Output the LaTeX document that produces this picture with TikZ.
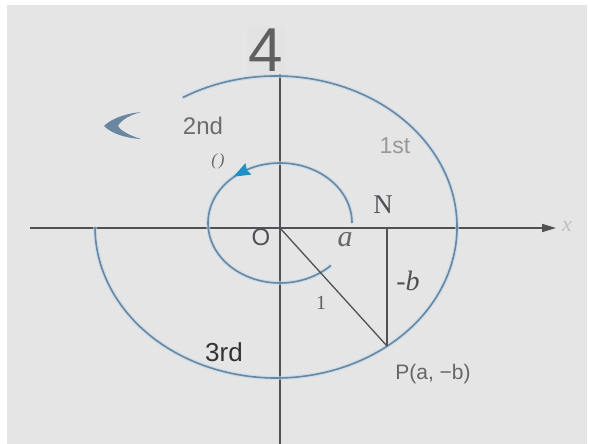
\documentclass[tikz,border=0pt]{standalone}
\usepackage{fontspec}
\setmainfont{Liberation Serif}
\setsansfont{Liberation Sans}
\usetikzlibrary{arrows.meta}
\definecolor{bg}{RGB}{229,229,229}
\definecolor{axis}{RGB}{80,80,85}
\definecolor{curve}{RGB}{105,135,160}
\definecolor{halo}{RGB}{190,215,235}
\definecolor{tip}{RGB}{30,145,200}
\tikzset{
  axisline/.style={draw=axis, line width=1.6pt},
  curveline/.style={draw=curve, line width=1.6pt},
  sanslab/.style={inner sep=0pt, font=\sffamily},
  seriflab/.style={inner sep=0pt},
}
\begin{document}
\begin{tikzpicture}[x=1pt,y=1pt]
\useasboundingbox (0,0) rectangle (589,444);
\fill[white] (0,0) rectangle (589,444);
\fill[bg] (7,0) rectangle (587,439);
% faint box behind 4
\fill[gray!22, opacity=0.5] (247,368) rectangle (286,418);
% axes
\coordinate (xl) at (30,216);
\coordinate (xr) at (556,216);
\coordinate (yt) at (280,370);
\coordinate (yb) at (280,0);
\draw[axisline, -{Triangle[length=14pt,width=8pt]}] (xl) -- (xr);
\draw[axisline] (yt) -- (yb);
% big curve
\draw[halo, line width=4pt, opacity=0.6] (276,217) ++(121:181 and 151) arc[start angle=121, end angle=-180, x radius=181, y radius=151];
\draw[curveline] (276,217) ++(121:181 and 151) arc[start angle=121, end angle=-180, x radius=181, y radius=151];
% inner curve
\draw[halo, line width=4pt, opacity=0.6] (280,221) ++(0:72 and 60) arc[start angle=0, end angle=315, x radius=72, y radius=60];
\draw[curveline] (280,221) ++(0:72 and 60) arc[start angle=0, end angle=315, x radius=72, y radius=60];
\coordinate (tipc) at (240.5,271);
\fill[tip, shift={(tipc)}, rotate=207.5] (8,0) -- (-9,6.5) -- (-7,0) -- (-9,-6.5) -- cycle;
% points
\coordinate (O) at (280,216);
\coordinate (P) at (387,98);
\coordinate (N) at (387,216);
\draw[axisline, line width=1.3pt] (O) -- (P);
\draw[axisline, line width=1.3pt] (N) -- (P);
% crescent
\fill[curve] (141,332) .. controls (122,330) and (110,324) .. (104,318)
  .. controls (111,311) and (124,306) .. (141,305)
  .. controls (128,309) and (120,314) .. (118,318)
  .. controls (121,324) and (130,329) .. (141,332) -- cycle;
% labels
\node[sanslab, text=gray!75!black, font=\sffamily\fontsize{62}{62}\selectfont] (four) at (266,394) {4};
\node[sanslab, text=gray!85!black, font=\sffamily\fontsize{24}{24}\selectfont] (second) at (203,318) {2nd};
\node[sanslab, text=gray!80, font=\sffamily\fontsize{23}{23}\selectfont] (first) at (395,298) {1st};
\node[seriflab, text=gray!80!black, font=\itshape\fontsize{17}{17}\selectfont] (theta) at (218,283) {(\kern2pt)};
\node[seriflab, text=axis, font=\fontsize{27}{27}\selectfont] (Nl) at (383,239) {N};
\node[sanslab, text=axis, font=\sffamily\fontsize{24}{24}\selectfont] (Ol) at (261,207) {O};
\node[seriflab, text=gray!80!black, font=\itshape\fontsize{30}{30}\selectfont] (al) at (345,204) {a};
\node[seriflab, text=axis, font=\fontsize{28}{28}\selectfont] (bl) at (408,163) {-\textit{b}};
\node[seriflab, text=gray!75!black, font=\fontsize{20}{20}\selectfont] (one) at (321,141) {1};
\node[sanslab, text=black!80, font=\sffamily\fontsize{26}{26}\selectfont] (third) at (224,92) {3rd};
\node[sanslab, text=gray!80!black, font=\sffamily\fontsize{21}{21}\selectfont] (Pl) at (433,70) {P(a, −b)};
\node[seriflab, text=gray!50, font=\itshape\fontsize{22}{22}\selectfont] (xlab) at (567,218) {x};
\end{tikzpicture}
\end{document}
